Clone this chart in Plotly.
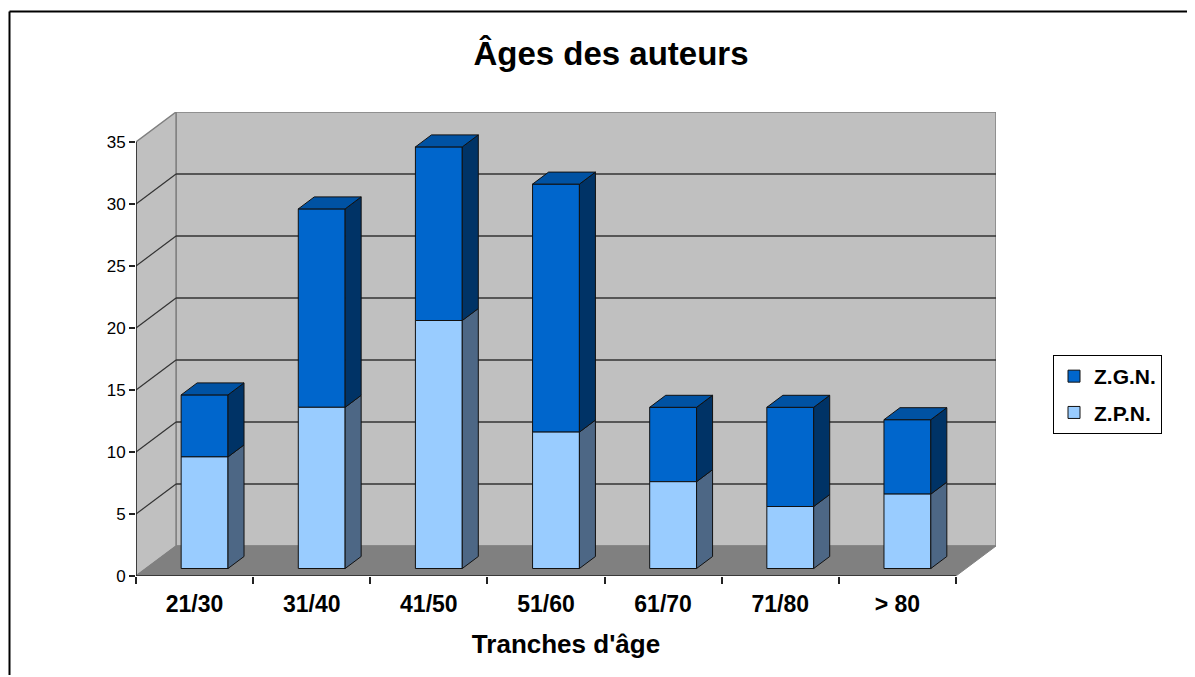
import plotly.graph_objects as go

# ---- data ----
categories = ["21/30", "31/40", "41/50", "51/60", "61/70", "71/80", "> 80"]
zpn = [9, 13, 20, 11, 7, 5, 6]       # Z.P.N. (light blue, bottom)
zgn = [5, 16, 14, 20, 6, 8, 6]       # Z.G.N. (dark blue, top)
y_ticks = [0, 5, 10, 15, 20, 25, 30, 35]

# ---- pseudo-3D geometry (in axis units) ----
N = len(categories)
YMAX = 35
DX = 40 / 117.0      # full depth offset along x (category units)
DY = 30 / 12.4       # full depth offset along y (value units)
D0 = 0.25            # depth of bar front face
BD = 0.40            # bar depth
BW = 0.40            # bar width

FONT = "Liberation Sans, Arial, sans-serif"
C_LIGHT, C_LIGHT_SIDE = "#99CCFF", "#4D6785"
C_DARK, C_DARK_SIDE, C_DARK_TOP = "#0066CC", "#003366", "#0052A3"
C_WALL, C_FLOOR, C_EDGE, C_GRID = "#C0C0C0", "#808080", "#808080", "#333333"

# page offset of the figure inside the browser (body margin)
OFF = 8
W, H = 1195 - OFF - 2, 677 - OFF - 2
L, R, T, B = 136 - OFF, 197, 112 - OFF, 99
PW, PH = W - L - R, H - T - B


def path(pts):
    return "M " + " L ".join(f"{x},{y}" for x, y in pts) + " Z"


shapes = []
# back wall
shapes.append(dict(type="path", path=path([(DX, DY), (N + DX, DY), (N + DX, YMAX + DY), (DX, YMAX + DY)]),
                   fillcolor=C_WALL, line=dict(color=C_EDGE, width=1.5), layer="below"))
# left wall
shapes.append(dict(type="path", path=path([(0, 0), (0, YMAX), (DX, YMAX + DY), (DX, DY)]),
                   fillcolor=C_WALL, line=dict(color=C_EDGE, width=1.5), layer="below"))
# floor
shapes.append(dict(type="path", path=path([(0, 0), (N, 0), (N + DX, DY), (DX, DY)]),
                   fillcolor=C_FLOOR, line=dict(color=C_EDGE, width=1), layer="below"))
# gridlines
for v in y_ticks[1:-1]:
    shapes.append(dict(type="line", x0=DX, x1=N + DX, y0=v + DY, y1=v + DY,
                       line=dict(color=C_GRID, width=1.5), layer="below"))
    shapes.append(dict(type="line", x0=0, x1=DX, y0=v, y1=v + DY,
                       line=dict(color=C_GRID, width=1.2), layer="below"))
# axis lines
shapes.append(dict(type="line", x0=0, x1=0, y0=0, y1=YMAX, line=dict(color="#222222", width=1.5), layer="below"))
shapes.append(dict(type="line", x0=0, x1=N, y0=0, y1=0, line=dict(color="#222222", width=1.5), layer="below"))

# bar side / top faces
xc = [i + 0.5 + D0 * DX for i in range(N)]
base0 = D0 * DY
ddx, ddy = BD * DX, BD * DY
for i in range(N):
    xr = xc[i] + BW / 2
    xl = xc[i] - BW / 2
    b1, t1 = base0, base0 + zpn[i]
    t2 = t1 + zgn[i]
    shapes.append(dict(type="path", path=path([(xr, b1), (xr + ddx, b1 + ddy), (xr + ddx, t1 + ddy), (xr, t1)]),
                       fillcolor=C_LIGHT_SIDE, line=dict(color="#111111", width=1), layer="above"))
    shapes.append(dict(type="path", path=path([(xr, t1), (xr + ddx, t1 + ddy), (xr + ddx, t2 + ddy), (xr, t2)]),
                       fillcolor=C_DARK_SIDE, line=dict(color="#111111", width=1), layer="above"))
    shapes.append(dict(type="path", path=path([(xl, t2), (xr, t2), (xr + ddx, t2 + ddy), (xl + ddx, t2 + ddy)]),
                       fillcolor=C_DARK_TOP, line=dict(color="#111111", width=1), layer="above"))

# outer frame (page px 9,11 -> figure px 1,3): only top and left edges are visible
fx0, fy0 = 9 - OFF + 0.5, 11 - OFF + 0.5
px0, py1 = (fx0 - L) / PW, ((H - B) - fy0) / PH
shapes.append(dict(type="line", xref="paper", yref="paper", x0=px0, x1=(W + 20 - L) / PW, y0=py1, y1=py1,
                   line=dict(color="black", width=2), layer="below"))
shapes.append(dict(type="line", xref="paper", yref="paper", x0=px0, x1=px0, y0=py1, y1=((H - B) - (H + 20)) / PH,
                   line=dict(color="black", width=2), layer="below"))

fig = go.Figure()
fig.add_trace(go.Bar(name="Z.G.N.", x=xc, y=zgn, base=[base0 + v for v in zpn], width=BW, legendgroup="g",
                     marker=dict(color=C_DARK, line=dict(color="#111111", width=1))))
fig.add_trace(go.Bar(name="Z.P.N.", x=xc, y=zpn, base=[base0] * N, width=BW, legendgroup="p",
                     marker=dict(color=C_LIGHT, line=dict(color="#111111", width=1))))

fig.update_layout(
    width=W, height=H,
    margin=dict(l=L, r=R, t=T, b=B),
    paper_bgcolor="white", plot_bgcolor="white",
    barmode="overlay",
    font=dict(family=FONT, color="black"),
    title=dict(text="Âges des auteurs", x=(611 - OFF) / W, xanchor="center", y=1 - (53 - OFF) / H,
               yanchor="middle", font=dict(size=33, weight="bold", family=FONT)),
    shapes=shapes,
    showlegend=True,
    legend=dict(x=(1053 - OFF - L) / PW, y=((H - B) - (355 - OFF)) / PH, xanchor="left", yanchor="top",
                bordercolor="black", borderwidth=1, bgcolor="white", tracegroupgap=6,
                font=dict(size=21, weight="bold", family=FONT)),
    xaxis=dict(range=[0, N + DX], tickmode="array", tickvals=[i + 0.5 for i in range(N)], ticktext=categories,
               ticks="", showgrid=False, zeroline=False, showline=False, ticklabelstandoff=12,
               tickfont=dict(size=23, weight="bold", family=FONT),
               minor=dict(tickmode="array", tickvals=list(range(N + 1)), ticks="outside", ticklen=7,
                          tickcolor="#222222", tickwidth=1.5, showgrid=False),
               title=dict(text="Tranches d'âge", font=dict(size=26, weight="bold", family=FONT), standoff=18)),
    yaxis=dict(range=[0, YMAX + DY], tickmode="array", tickvals=y_ticks, ticks="outside", ticklen=6,
               tickcolor="#222222", tickwidth=1.5, showgrid=False, zeroline=False, showline=False,
               tickfont=dict(size=17, family=FONT)),
)

fig.write_html("out.html", config={"displayModeBar": False})
